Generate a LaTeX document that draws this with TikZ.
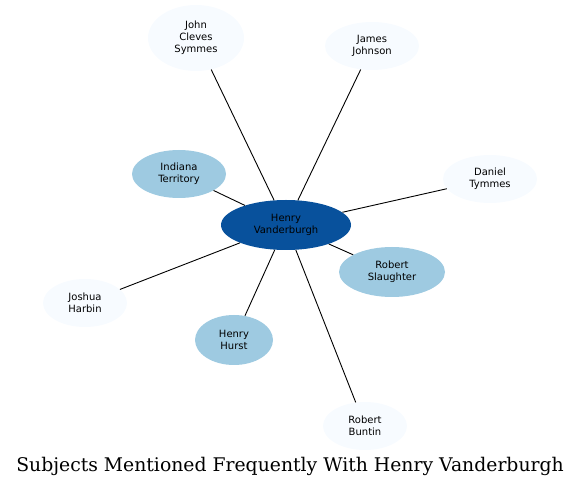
\documentclass[tikz,border=0pt]{standalone}
\usepackage{fontspec}
\newfontfamily\nodefont{DejaVu Sans}
\newfontfamily\titlefont{DejaVu Serif}
\usetikzlibrary{shapes.geometric}
\definecolor{hub}{HTML}{08519C}
\definecolor{mid}{HTML}{9ECAE1}
\definecolor{pale}{HTML}{F7FBFF}
\tikzset{
  ent/.style={ellipse, inner sep=0pt, draw=none, align=center,
    font=\nodefont\fontsize{10}{12}\selectfont, text=black},
  hubnode/.style={ent, fill=hub},
  midnode/.style={ent, fill=mid},
  palenode/.style={ent, fill=pale},
  link/.style={draw=black, line width=0.9pt},
}
\begin{document}
\begin{tikzpicture}[x=1pt,y=1pt]
\useasboundingbox (0,0) rectangle (580,487);
\node[hubnode, minimum width=130pt, minimum height=50pt] (hv) at (286,262) {Henry\\Vanderburgh};
\node[palenode, minimum width=96pt, minimum height=66pt] (jcs) at (196,449) {John\\Cleves\\Symmes};
\node[palenode, minimum width=94pt, minimum height=48pt] (jj) at (372,441) {James\\Johnson};
\node[midnode, minimum width=94pt, minimum height=48pt] (it) at (179,313) {Indiana\\Territory};
\node[palenode, minimum width=94pt, minimum height=48pt] (dt) at (490,308) {Daniel\\Tymmes};
\node[midnode, minimum width=106pt, minimum height=50pt] (rs) at (392,215) {Robert\\Slaughter};
\node[palenode, minimum width=84pt, minimum height=48pt] (jh) at (85,184) {Joshua\\Harbin};
\node[midnode, minimum width=78pt, minimum height=50pt] (hh) at (234,147) {Henry\\Hurst};
\node[palenode, minimum width=84pt, minimum height=48pt] (rb) at (365,61) {Robert\\Buntin};
\node[font=\titlefont\fontsize{18.8}{22}\selectfont] (title) at (290,21) {Subjects Mentioned Frequently With Henry Vanderburgh};
\foreach \n in {jcs,jj,it,dt,rs,jh,hh,rb} {\draw[link] (hv) -- (\n);}
\end{tikzpicture}
\end{document}
